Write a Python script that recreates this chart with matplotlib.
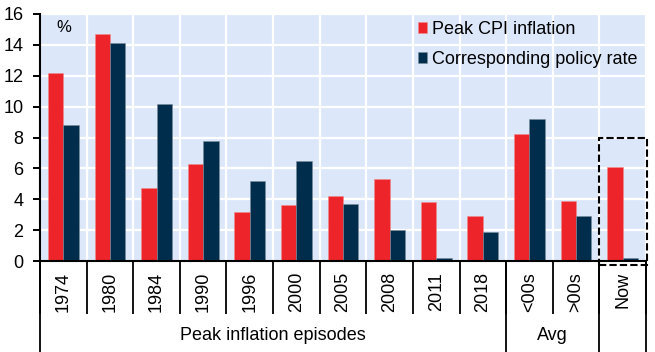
import numpy as np
import matplotlib.pyplot as plt
from matplotlib.patches import Rectangle

plt.rcParams['font.family'] = ['Liberation Sans', 'DejaVu Sans']
plt.rcParams['font.size'] = 13

categories = ['1974', '1980', '1984', '1990', '1996', '2000', '2005', '2008',
              '2011', '2018', '<00s', '>00s', 'Now']
peak_cpi = [12.2, 14.7, 4.7, 6.3, 3.2, 3.6, 4.2, 5.3, 3.8, 2.9, 8.2, 3.9, 6.1]
policy_rate = [8.8, 14.1, 10.2, 7.8, 5.2, 6.5, 3.7, 2.0, 0.2, 1.9, 9.2, 2.9, 0.2]
groups = [('Peak inflation episodes', 10), ('Avg', 2), ('', 1)]

red = '#ED252B'
navy = '#002D4B'
bg = '#DCE8FA'

fig = plt.figure(figsize=(6.55, 3.52), dpi=100)
ax = fig.add_axes([40/655, 91/352, 606/655, 247/352])
ax.set_facecolor(bg)

x = np.arange(len(categories))
w = 0.33
ax.bar(x - w/2, peak_cpi, w, color=red, edgecolor='#f08a8c', linewidth=0.4,
       label='Peak CPI inflation', zorder=2)
ax.bar(x + w/2, policy_rate, w, color=navy, edgecolor='#7a8a9a', linewidth=0.4,
       label='Corresponding policy rate', zorder=2)

ax.set_xlim(-0.5, len(categories) - 0.5)
ax.set_ylim(0, 16)
ax.set_yticks(range(0, 17, 2))
ax.set_xticks(x)
ax.set_xticklabels(categories, rotation=90)
ax.set_xticks(np.arange(-0.5, len(categories), 1), minor=True)

ax.set_axisbelow(True)
ax.yaxis.grid(True, color='white', linewidth=1.6)
ax.xaxis.grid(True, which='minor', color='white', linewidth=1.6)

for s in ['top', 'right']:
    ax.spines[s].set_visible(False)
for s in ['left', 'bottom']:
    ax.spines[s].set_linewidth(1.5)

ax.tick_params(axis='y', length=5, width=1.4, pad=7)
ax.tick_params(axis='x', which='major', length=0, pad=8)
ax.tick_params(axis='x', which='minor', length=38, width=1.3, direction='out')

# long separators between category groups
tr = ax.get_xaxis_transform()
start = -0.5
bounds = [start]
for name, n in groups:
    if name:
        ax.text(start + n/2, -0.302, name, transform=tr, ha='center', va='center')
    start += n
    bounds.append(start)
for b in bounds:
    ax.plot([b, b], [0, -0.368], transform=tr, color='black', lw=1.3, clip_on=False)

# dashed box around "Now"
ax.add_patch(Rectangle((len(categories) - 1.5, -0.27), 1.03, 8.27, fill=False,
                       edgecolor='black', linestyle=(0, (3.5, 1.5)), lw=1.5,
                       clip_on=False, zorder=3))

ax.text(0.04, 0.975, '%', transform=ax.transAxes, ha='center', va='top', fontsize=12)

ax.legend(loc='upper left', bbox_to_anchor=(0.623, 0.973), frameon=False,
          borderpad=0, borderaxespad=0, handlelength=0.55, handleheight=0.55,
          handletextpad=0.25, labelspacing=0.75)

fig.savefig('out.png', dpi=100)
